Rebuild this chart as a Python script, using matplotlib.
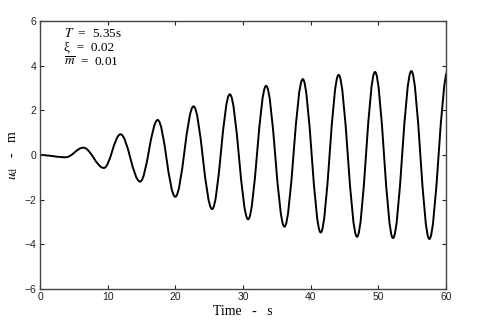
import matplotlib
matplotlib.use("Agg")
import matplotlib.pyplot as plt
from matplotlib.path import Path
from matplotlib.patches import PathPatch

# extrema of the response (time in s, displacement in m)
t_ext = [0.0, 3.8, 6.4, 9.45, 11.9, 14.8, 17.4, 20.0, 22.7, 25.45, 28.06,
         30.77, 33.43, 36.14, 38.85, 41.5, 44.15, 46.87, 49.53, 52.19,
         54.9, 57.56, 60.3]
u_ext = [0.0, -0.10, 0.33, -0.58, 0.93, -1.19, 1.57, -1.87, 2.18, -2.42,
         2.72, -2.88, 3.10, -3.21, 3.40, -3.47, 3.59, -3.66, 3.72, -3.72,
         3.76, -3.76, 3.78]

x_ticks = [0, 10, 20, 30, 40, 50, 60]
y_ticks = [-6, -4, -2, 0, 2, 4, 6]

plt.rcParams["mathtext.fontset"] = "stix"

fig = plt.figure(figsize=(4.82, 3.25), dpi=100)
ax = fig.add_axes([0.083, 0.111, 0.842, 0.824])

# smooth curve through the extrema: cubic Bezier segments with flat tangents
k = 0.363
verts = [(t_ext[0], u_ext[0])]
codes = [Path.MOVETO]
for i in range(1, len(t_ext)):
    dt = t_ext[i] - t_ext[i - 1]
    verts += [(t_ext[i - 1] + k * dt, u_ext[i - 1]),
              (t_ext[i] - k * dt, u_ext[i]),
              (t_ext[i], u_ext[i])]
    codes += [Path.CURVE4] * 3
ax.add_patch(PathPatch(Path(verts, codes), fill=False, edgecolor="black", lw=1.4))

ax.set_xlim(0, 60)
ax.set_ylim(-6, 6)
ax.set_xticks(x_ticks)
ax.set_yticks(y_ticks)
ax.tick_params(direction="in", top=True, right=True, length=3, width=0.8,
               labelsize=7.5, colors="#222222", pad=2.5)
for lbl in ax.get_xticklabels() + ax.get_yticklabels():
    lbl.set_family("Liberation Sans")
for s in ax.spines.values():
    s.set_color("#444444")
    s.set_linewidth(1.0)

ax.set_xlabel("Time   -   s", family="Liberation Serif", fontsize=10, labelpad=2)
ax.set_ylabel("$u_{\\mathrm{d}}$   -   m", family="Liberation Serif", fontsize=10, labelpad=3)

txt = dict(transform=ax.transAxes, family="Liberation Serif", fontsize=9.5, va="center")
ax.text(0.059, 0.955, "$T$  =  5.35s", **txt)
ax.text(0.059, 0.900, "ξ  =  0.02", **txt)
ax.text(0.059, 0.847, "$\\overline{m}$  =  0.01", **txt)

fig.savefig("out.png", dpi=100)
